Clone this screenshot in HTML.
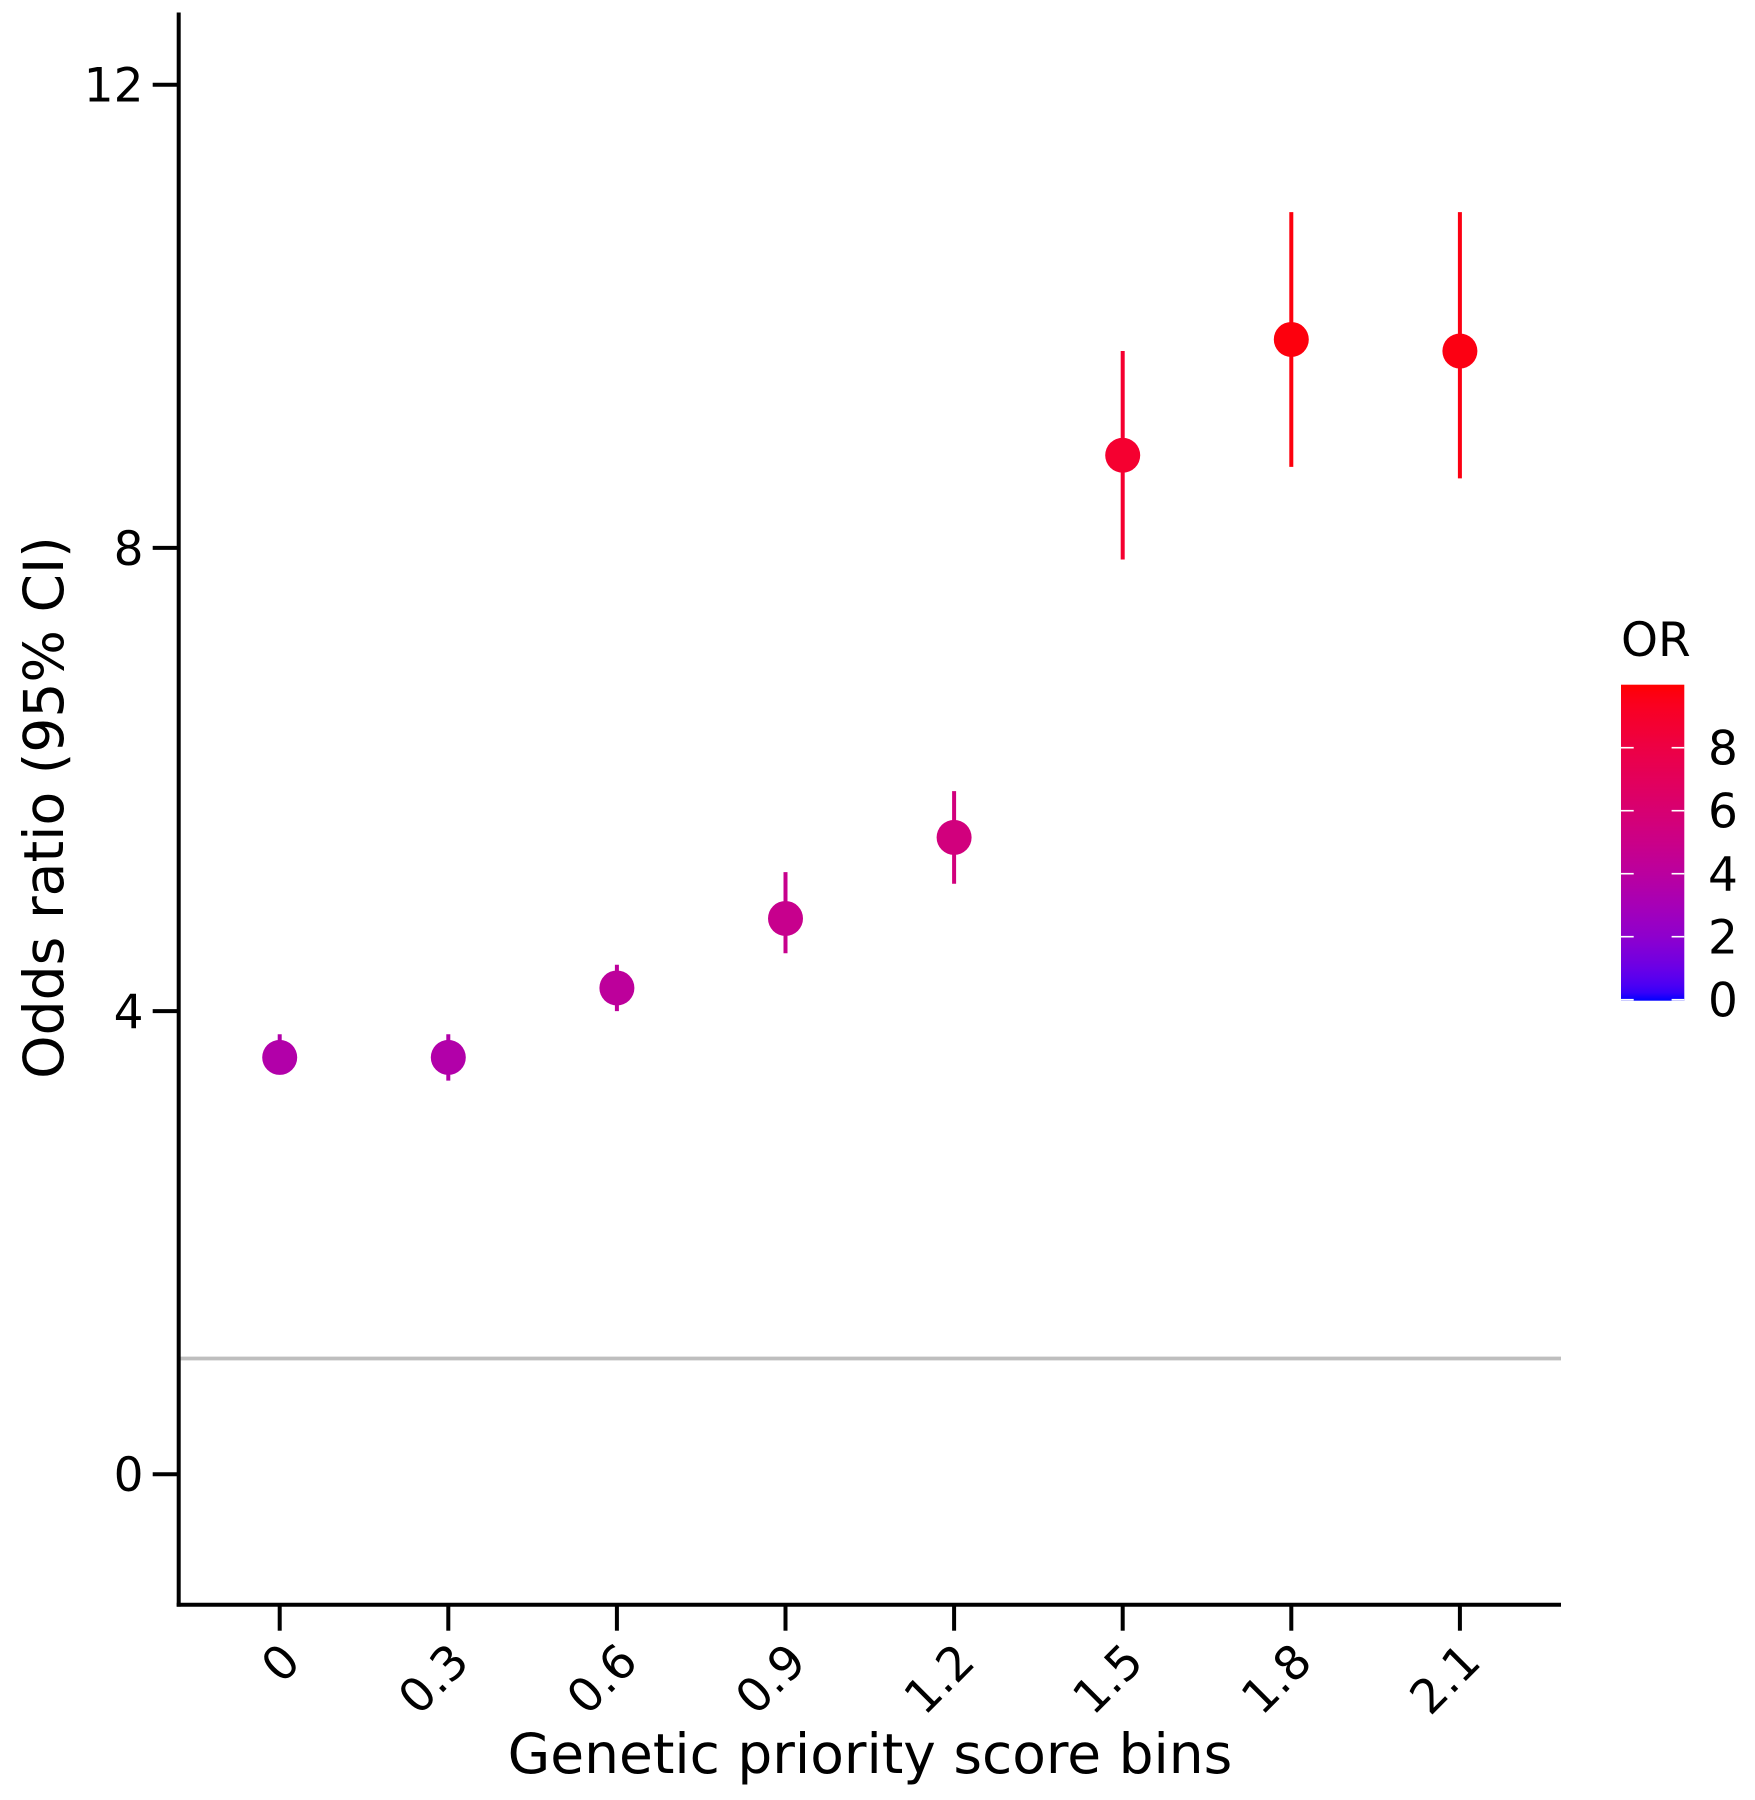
<!DOCTYPE html>
<html lang="en">
<head>
<meta charset="utf-8">
<title>Odds ratio by genetic priority score bins</title>
<style>
html,body{margin:0;padding:0;background:#fff;width:1755px;height:1800px;overflow:hidden}
svg{display:block}
text{font-family:"DejaVu Sans","Liberation Sans",sans-serif;fill:#000}
</style>
</head>
<body>
<svg id="chart" xmlns="http://www.w3.org/2000/svg" width="1755" height="1800" viewBox="0 0 1755 1800">
  <rect x="0" y="0" width="1755" height="1800" fill="#ffffff"/>
  <defs id="chart-defs"></defs>
  <g id="reference-layer"></g>
  <g id="axes-layer"></g>
  <g id="marks-layer"></g>
  <g id="legend-layer"></g>
  <text x="870" y="1773" font-size="55" text-anchor="middle">Genetic priority score bins</text>
  <text transform="translate(63,807.5) rotate(-90)" font-size="55.2" text-anchor="middle">Odds ratio (95% CI)</text>
  <text x="1621" y="656" font-size="47">OR</text>
</svg>
<script>
// ---- chart data ----
const binValues = [0, 0.3, 0.6, 0.9, 1.2, 1.5, 1.8, 2.1];
const binLabels = ["0", "0.3", "0.6", "0.9", "1.2", "1.5", "1.8", "2.1"];
const oddsRatios = [3.6, 3.6, 4.2, 4.8, 5.5, 8.8, 9.8, 9.7];
const ciLower = [3.5, 3.4, 4.0, 4.5, 5.1, 7.9, 8.7, 8.6];
const ciUpper = [3.8, 3.8, 4.4, 5.2, 5.9, 9.7, 10.9, 10.9];
const yTickValues = [0, 4, 8, 12];
const referenceOdds = [1];
const legendTickValues = [0, 2, 4, 6, 8];
const colorDomain = [0, 10];

// ---- axis functions ----
const SVG_NS = "http://www.w3.org/2000/svg";
function xScale(v) { return 279.7 + v * 562; }
function yScale(v) { return 1474.3 - v * 115.8; }
function legendScale(v) { return 999.7 - v * 31.5; }

function make(tag, parent) {
  const el = document.createElementNS(SVG_NS, tag);
  parent.appendChild(el);
  return el;
}
function setAll(el, props) {
  Object.keys(props).forEach(function (k) { el.setAttribute(k, props[k]); });
}

// ---- Lab colour interpolation, blue to red ----
function srgbToLab(rgb) {
  const lin = rgb.map(function (c) {
    c = c / 255;
    return c <= 0.04045 ? c / 12.92 : Math.pow((c + 0.055) / 1.055, 2.4);
  });
  const X = (0.4124564 * lin[0] + 0.3575761 * lin[1] + 0.1804375 * lin[2]) / 0.95047;
  const Y = 0.2126729 * lin[0] + 0.7151522 * lin[1] + 0.0721750 * lin[2];
  const Z = (0.0193339 * lin[0] + 0.1191920 * lin[1] + 0.9503041 * lin[2]) / 1.08883;
  const f = function (t) { return t > 0.008856 ? Math.cbrt(t) : 7.787 * t + 16 / 116; };
  return [116 * f(Y) - 16, 500 * (f(X) - f(Y)), 200 * (f(Y) - f(Z))];
}
function labToCss(lab) {
  const fy = (lab[0] + 16) / 116;
  const fx = lab[1] / 500 + fy;
  const fz = fy - lab[2] / 200;
  const g = function (t) { return t * t * t > 0.008856 ? t * t * t : (t - 16 / 116) / 7.787; };
  const X = g(fx) * 0.95047, Y = g(fy), Z = g(fz) * 1.08883;
  const lin = [
    3.2404542 * X - 1.5371385 * Y - 0.4985314 * Z,
    -0.9692660 * X + 1.8760108 * Y + 0.0415560 * Z,
    0.0556434 * X - 0.2040259 * Y + 1.0572252 * Z
  ];
  const out = lin.map(function (c) {
    c = Math.min(1, Math.max(0, c));
    const s = c <= 0.0031308 ? 12.92 * c : 1.055 * Math.pow(c, 1 / 2.4) - 0.055;
    return Math.round(s * 255);
  });
  return "rgb(" + out.join(",") + ")";
}
const labLow = srgbToLab([0, 0, 255]);
const labHigh = srgbToLab([255, 0, 0]);
function colorScale(v) {
  const t = Math.min(1, Math.max(0, (v - colorDomain[0]) / (colorDomain[1] - colorDomain[0])));
  return labToCss(labLow.map(function (c, i) { return c + (labHigh[i] - c) * t; }));
}

// ---- reference line ----
const refLayer = document.getElementById("reference-layer");
referenceOdds.forEach(function (v) {
  const line = make("line", refLayer);
  
  
  setAll(line, { x1: 178, x2: 1561, y1: yScale(v), y2: yScale(v), stroke: "#bebebe", "stroke-width": 3.8 });
});

// ---- axes ----
const axesLayer = document.getElementById("axes-layer");
const yAxisLine = make("line", axesLayer);


setAll(yAxisLine, { x1: 178.7, x2: 178.7, y1: 12.5, y2: 1606.6, stroke: "#000", "stroke-width": 4 });

const xAxisLine = make("line", axesLayer);


setAll(xAxisLine, { x1: 176.7, x2: 1561, y1: 1604.7, y2: 1604.7, stroke: "#000", "stroke-width": 4 });

yTickValues.forEach(function (v) {
  const tick = make("line", axesLayer);
  
  
  setAll(tick, { x1: 152.7, x2: 178, y1: yScale(v), y2: yScale(v), stroke: "#000", "stroke-width": 4 });
  const label = make("text", axesLayer);
  
  
  setAll(label, { x: 143.5, y: yScale(v) + 16.9, "font-size": 47, "text-anchor": "end" });
  label.textContent = String(v);
});

binValues.forEach(function (v, i) {
  const px = xScale(v);
  const tick = make("line", axesLayer);
  
  
  setAll(tick, { x1: px, x2: px, y1: 1604.7, y2: 1630.7, stroke: "#000", "stroke-width": 4 });
  const label = make("text", axesLayer);
  
  
  setAll(label, {
    transform: "translate(" + (px + 23) + ",1664) rotate(-45)",
    "font-size": 47,
    "text-anchor": "end"
  });
  label.textContent = binLabels[i];
});

// ---- series: confidence intervals and points ----
const marksLayer = document.getElementById("marks-layer");
binValues.forEach(function (v, i) {
  const colour = colorScale(oddsRatios[i]);
  const ci = make("line", marksLayer);
  
  
  setAll(ci, { x1: xScale(v), x2: xScale(v), y1: yScale(ciLower[i]), y2: yScale(ciUpper[i]), stroke: colour, "stroke-width": 4 });
  const point = make("circle", marksLayer);
  
  
  setAll(point, { cx: xScale(v), cy: yScale(oddsRatios[i]), r: 17.5, fill: colour });
});

// ---- colour legend ----
const defs = document.getElementById("chart-defs");
const grad = make("linearGradient", defs);
setAll(grad, { id: "or-gradient", x1: 0, y1: 1, x2: 0, y2: 0 });
for (let s = 0; s <= 40; s++) {
  const stop = make("stop", grad);
  setAll(stop, {
    offset: s / 40,
    "stop-color": colorScale(colorDomain[0] + (colorDomain[1] - colorDomain[0]) * s / 40)
  });
}
const legendLayer = document.getElementById("legend-layer");
const legendBar = make("rect", legendLayer);


setAll(legendBar, {
  x: 1621, y: legendScale(colorDomain[1]), width: 63.3,
  height: legendScale(colorDomain[0]) - legendScale(colorDomain[1]) + 1,
  fill: "url(#or-gradient)"
});
legendTickValues.forEach(function (v) {
  const y = legendScale(v);
  const left = make("line", legendLayer);
  
  
  setAll(left, { x1: 1621, x2: 1633.7, y1: y, y2: y, stroke: "#fff", "stroke-width": 1.6 });
  const right = make("line", legendLayer);
  
  
  setAll(right, { x1: 1671.6, x2: 1684.3, y1: y, y2: y, stroke: "#fff", "stroke-width": 1.6 });
  const label = make("text", legendLayer);
  
  
  setAll(label, { x: 1708, y: y + 17, "font-size": 47 });
  label.textContent = String(v);
});
</script>
</body>
</html>
